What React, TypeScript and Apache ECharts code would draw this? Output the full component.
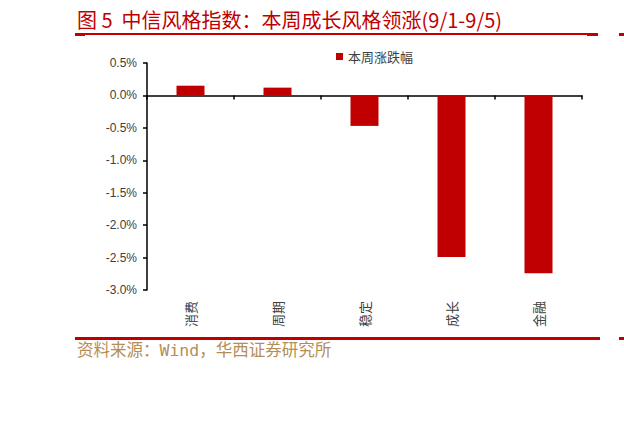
import * as echarts from "echarts"
import { useEffect, useRef } from "react"

const categories = ["消费", "周期", "稳定", "成长", "金融"]
const weeklyChange = [0.15, 0.12, -0.47, -2.49, -2.74]
const seriesName = "本周涨跌幅"
const titleText = "图 5  中信风格指数：本周成长风格领涨(9/1-9/5)"
const sourceText = "资料来源：Wind，华西证券研究所"

const RED = "#c00000"
const CJK = "'Noto Sans CJK SC', sans-serif"

// Weekly style-index returns, bar chart with the category labels parked at the bottom
// while the axis line itself sits on zero (two stacked x axes: labels / line+ticks).
export default function App() {
  const ref = useRef<HTMLDivElement>(null)

  useEffect(() => {
    if (!ref.current) return
    const chart = echarts.init(ref.current, null, { renderer: "svg" })

    chart.setOption({
      animation: false,
      grid: { left: 147, right: 42, top: 63, bottom: 140 },
      legend: {
        data: [seriesName],
        left: 331,
        top: 45,
        icon: "rect",
        itemWidth: 7,
        itemHeight: 7,
        itemGap: 4,
        textStyle: { fontSize: 13, color: "#404040", fontFamily: CJK },
      },
      xAxis: [
        {
          type: "category",
          data: categories,
          position: "bottom",
          axisLine: { show: false, onZero: false },
          axisTick: { show: false },
          axisLabel: { rotate: 90, margin: 11, fontSize: 13, color: "#404040", fontFamily: CJK },
        },
        {
          type: "category",
          data: categories,
          position: "bottom",
          axisLine: { show: true, onZero: true, lineStyle: { color: "#000", width: 1.5 } },
          axisTick: { show: true, length: 4, lineStyle: { color: "#000", width: 1.5 } },
          axisLabel: { show: false },
        },
      ],
      yAxis: {
        type: "value",
        min: -3,
        max: 0.5,
        interval: 0.5,
        axisLine: { show: true, lineStyle: { color: "#000", width: 1.5 } },
        axisTick: { show: true, length: 4, lineStyle: { color: "#000", width: 1.5 } },
        splitLine: { show: false },
        axisLabel: {
          color: "#404040",
          fontSize: 12,
          margin: 10,
          fontFamily: "'Liberation Sans', sans-serif",
          formatter: (v: number) => v.toFixed(1) + "%",
        },
      },
      series: [
        {
          name: seriesName,
          type: "bar",
          xAxisIndex: 0,
          data: weeklyChange,
          barWidth: 28,
          itemStyle: { color: RED },
        },
      ],
      graphic: [
        {
          type: "text",
          left: 77,
          top: 9,
          style: { text: titleText, fill: RED, fontSize: 20, fontFamily: CJK },
        },
        { type: "rect", shape: { x: 75, y: 33, width: 523, height: 2 }, style: { fill: RED } },
        { type: "rect", shape: { x: 75, y: 33, width: 10, height: 3 }, style: { fill: RED } },
        { type: "rect", shape: { x: 587, y: 33, width: 11, height: 3 }, style: { fill: RED } },
        { type: "rect", shape: { x: 619, y: 33, width: 5, height: 3 }, style: { fill: RED } },
        { type: "rect", shape: { x: 75, y: 337, width: 525, height: 3 }, style: { fill: RED } },
        { type: "rect", shape: { x: 619, y: 337, width: 5, height: 3 }, style: { fill: RED } },
        {
          type: "text",
          left: 77,
          top: 342,
          style: {
            text: sourceText,
            fill: "#b58e55",
            fontSize: 16.5,
            fontFamily: "'DejaVu Sans Mono', 'Noto Sans CJK SC', monospace",
          },
        },
      ],
    })

    return () => chart.dispose()
  }, [])

  return (
    <div
      ref={ref}
      style={{ position: "fixed", left: 0, top: 0, width: 624, height: 430, background: "#fff" }}
    />
  )
}
